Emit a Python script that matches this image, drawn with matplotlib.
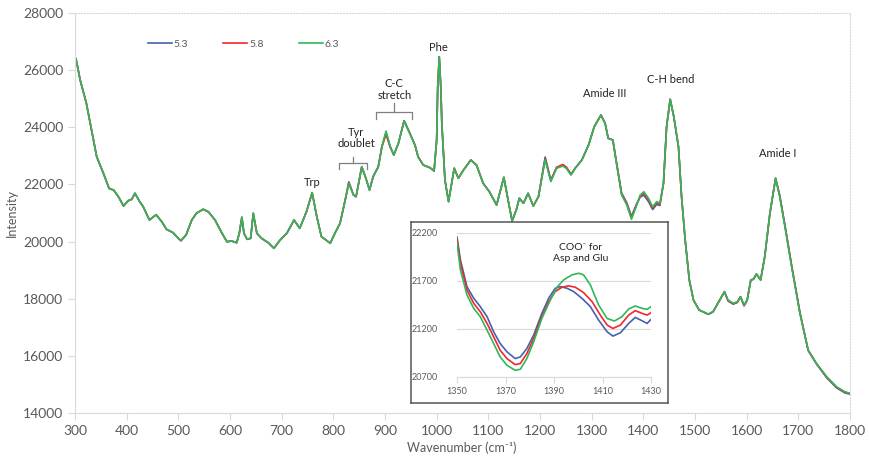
import matplotlib
matplotlib.use('Agg')
import matplotlib.pyplot as plt

plt.rcParams['font.family'] = ['Lato', 'DejaVu Sans']
plt.rcParams['lines.solid_joinstyle'] = 'round'

# Raman spectra at three pH values
wn = [300, 302, 310, 322, 332, 342, 355, 366, 375, 384,
      394, 403, 410, 416, 426, 432, 444, 457, 468, 477,
      490, 497, 505, 515, 526, 535, 548, 558, 571, 584,
      594, 603, 613, 618, 623, 627, 633, 640, 645, 652,
      661, 674, 685, 697, 710, 724, 735, 748, 759, 768,
      777, 784, 794, 803, 813, 823, 830, 839, 844, 855,
      863, 870, 877, 887, 894, 902, 910, 917, 926, 937,
      948, 958, 964, 974, 987, 995, 1000, 1002, 1005, 1008,
      1010, 1016, 1023, 1029, 1034, 1042, 1052, 1066, 1077, 1090,
      1102, 1116, 1130, 1137, 1146, 1154, 1160, 1168, 1177, 1187,
      1197, 1210, 1221, 1232, 1244, 1251, 1260, 1268, 1281, 1294,
      1305, 1318, 1326, 1332, 1341, 1348, 1358, 1368, 1377, 1386,
      1394, 1401, 1410, 1418, 1426, 1432, 1439, 1445, 1452, 1459,
      1468, 1474, 1481, 1489, 1497, 1508, 1526, 1535, 1548, 1557,
      1564, 1574, 1582, 1588, 1595, 1601, 1608, 1613, 1619, 1627,
      1635, 1645, 1656, 1664, 1674, 1687, 1703, 1719, 1735, 1755,
      1774, 1790, 1800]

ph63 = [26420, 26380, 25655, 24840, 23900, 22970, 22390, 21860, 21800, 21570,
        21245, 21430, 21480, 21690, 21375, 21220, 20755, 20940, 20695, 20430,
        20310, 20170, 20030, 20230, 20755, 20990, 21130, 21045, 20755, 20310,
        19995, 20020, 19960, 20290, 20850, 20290, 20080, 20115, 20990, 20290,
        20115, 19960, 19765, 20055, 20290, 20755, 20465, 21045, 21710, 20870,
        20170, 20080, 19940, 20290, 20640, 21455, 22040, 21630, 21570, 22620,
        22215, 21805, 22270, 22620, 23320, 23870, 23320, 23030, 23440, 24230,
        23790, 23380, 22970, 22680, 22585, 22470, 23555, 25400, 26470, 25400,
        24140, 22155, 21400, 22040, 22565, 22215, 22505, 22855, 22680, 22040,
        21745, 21280, 22250, 21570, 20720, 21105, 21515, 21340, 21690, 21245,
        21570, 22855, 22100, 22565, 22645, 22565, 22330, 22565, 22855, 23380,
        24020, 24430, 24140, 23615, 23555, 22740, 21630, 21280, 20780, 21220,
        21630, 21745, 21515, 21220, 21400, 21340, 22040, 24020, 24980, 24370,
        23320, 21570, 20055, 18655, 17955, 17605, 17455, 17545, 17955, 18245,
        17955, 17840, 17895, 18070, 17780, 17955, 18655, 18680, 18865, 18655,
        19470, 20990, 22215, 21570, 20520, 19120, 17490, 16205, 15740, 15270,
        14920, 14745, 14690]

ph58 = [26420, 26380, 25655, 24840, 23900, 22970, 22390, 21860, 21800, 21570,
        21245, 21430, 21480, 21690, 21375, 21220, 20755, 20940, 20695, 20430,
        20310, 20170, 20030, 20230, 20755, 20990, 21130, 21045, 20755, 20310,
        19995, 20020, 19960, 20290, 20850, 20290, 20080, 20115, 20990, 20290,
        20115, 19960, 19765, 20055, 20290, 20755, 20465, 21045, 21710, 20870,
        20170, 20080, 19940, 20290, 20640, 21455, 22060, 21630, 21570, 22620,
        22215, 21805, 22270, 22620, 23320, 23750, 23300, 23030, 23440, 24230,
        23790, 23380, 22970, 22680, 22585, 22470, 23555, 25400, 26470, 25400,
        24140, 22155, 21400, 22040, 22565, 22215, 22505, 22855, 22680, 22040,
        21745, 21280, 22250, 21570, 20720, 21105, 21515, 21340, 21690, 21245,
        21570, 22900, 22130, 22600, 22700, 22610, 22360, 22565, 22855, 23380,
        24020, 24430, 24140, 23615, 23555, 22760, 21660, 21320, 20830, 21250,
        21590, 21690, 21460, 21170, 21350, 21300, 22040, 24020, 24980, 24370,
        23320, 21570, 20055, 18655, 17955, 17605, 17455, 17545, 17955, 18245,
        17930, 17820, 17880, 18070, 17760, 17955, 18655, 18680, 18865, 18655,
        19470, 20990, 22215, 21600, 20560, 19150, 17510, 16200, 15730, 15250,
        14900, 14725, 14680]

ph53 = [26460, 26400, 25655, 24840, 23900, 22970, 22390, 21860, 21800, 21570,
        21245, 21430, 21480, 21690, 21375, 21220, 20755, 20940, 20695, 20430,
        20310, 20170, 20030, 20230, 20755, 20990, 21130, 21045, 20755, 20310,
        19995, 20020, 19960, 20290, 20850, 20290, 20080, 20115, 20990, 20290,
        20115, 19960, 19765, 20055, 20290, 20755, 20465, 21045, 21710, 20870,
        20170, 20080, 19940, 20290, 20640, 21455, 22090, 21630, 21570, 22620,
        22215, 21805, 22270, 22620, 23320, 23820, 23340, 23030, 23440, 24230,
        23790, 23380, 22970, 22680, 22585, 22470, 23555, 25400, 26470, 25400,
        24140, 22155, 21400, 22040, 22565, 22215, 22505, 22855, 22680, 22040,
        21745, 21280, 22250, 21570, 20720, 21105, 21515, 21340, 21690, 21245,
        21570, 22960, 22150, 22580, 22660, 22580, 22340, 22565, 22855, 23380,
        24020, 24430, 24140, 23615, 23555, 22780, 21700, 21360, 20880, 21280,
        21560, 21620, 21400, 21120, 21300, 21260, 22040, 24020, 24980, 24370,
        23320, 21570, 20055, 18655, 17955, 17605, 17455, 17545, 17955, 18245,
        17920, 17810, 17870, 18070, 17750, 17955, 18655, 18680, 18865, 18655,
        19470, 20990, 22215, 21620, 20580, 19170, 17530, 16190, 15720, 15230,
        14880, 14705, 14660]

# inset: COO- region
in_wn53 = [1350.0, 1351.4, 1354.1, 1356.9, 1359.6, 1362.4, 1365.1, 1367.8, 1370.6, 1374.0,
           1376.1, 1378.8, 1381.6, 1385.0, 1387.8, 1390.5, 1392.6, 1395.4, 1398.1, 1401.5,
           1405.0, 1408.4, 1411.9, 1414.3, 1417.4, 1420.8, 1423.5, 1426.3, 1428.4, 1430.0]
in53 = [22158, 21921, 21642, 21520, 21433, 21328, 21171, 21049, 20962, 20892,
        20909, 20997, 21136, 21363, 21520, 21624, 21642, 21624, 21590, 21520,
        21433, 21293, 21171, 21126, 21161, 21258, 21321, 21286, 21258, 21300]

in_wn58 = [1350.0, 1351.4, 1354.1, 1356.9, 1359.6, 1362.4, 1365.1, 1367.8, 1370.6, 1374.0,
           1376.1, 1378.8, 1381.6, 1385.0, 1387.8, 1390.5, 1393.3, 1396.0, 1398.8, 1402.2,
           1405.7, 1409.1, 1411.9, 1414.3, 1417.4, 1420.8, 1423.5, 1426.3, 1428.4, 1430.0]
in58 = [22130, 21886, 21607, 21467, 21380, 21258, 21119, 20979, 20892, 20829,
        20840, 20944, 21101, 21328, 21485, 21590, 21635, 21649, 21635, 21579,
        21485, 21345, 21241, 21206, 21241, 21345, 21391, 21363, 21345, 21370]

in_wn63 = [1350.0, 1351.4, 1354.1, 1356.9, 1359.6, 1362.4, 1365.1, 1367.8, 1370.6, 1374.0,
           1376.1, 1378.8, 1381.6, 1385.0, 1388.5, 1391.2, 1394.0, 1397.4, 1400.2, 1402.2,
           1405.0, 1408.4, 1411.9, 1414.9, 1418.0, 1420.8, 1423.5, 1426.3, 1428.4, 1430.0]
in63 = [22095, 21816, 21555, 21415, 21328, 21188, 21049, 20909, 20822, 20770,
        20780, 20892, 21066, 21310, 21502, 21635, 21712, 21764, 21781, 21764,
        21659, 21450, 21310, 21283, 21328, 21408, 21440, 21415, 21405, 21433]

labels = ['5.3', '5.8', '6.3']
colors = ['#4462ad', '#f0282a', '#2fb85a']
axis_grey = '#d9d9d9'
text_grey = '#595959'

fig = plt.figure(figsize=(8.69, 4.66), dpi=100)
ax = fig.add_axes([75/869, 1-413/466, 775/869, 400/466])

for vals, c, lab in zip([ph53, ph58, ph63], colors, labels):
    ax.plot(wn, vals, color=c, lw=1.2, label=lab)

ax.set_xlim(300, 1800)
ax.set_ylim(14000, 28000)
ax.set_xticks(range(300, 1801, 100))
ax.set_yticks(range(14000, 28001, 2000))
for s in ['left', 'bottom']:
    ax.spines[s].set_color(axis_grey)
for s in ['top', 'right']:
    ax.spines[s].set_color(axis_grey)
    ax.spines[s].set_linestyle(':')
ax.tick_params(colors=axis_grey, labelcolor=text_grey, labelsize=10, length=5)

fig.text(462/869, 1-448/466, 'Wavenumber (cm⁻¹)', ha='center', va='center',
         fontsize=9, color=text_grey)
fig.text(12/869, 1-213/466, 'Intensity', ha='center', va='center',
         rotation=90, fontsize=9, color=text_grey)

ax.legend(loc='center left', bbox_to_anchor=(148/869, 1-44/466),
          bbox_transform=fig.transFigure, ncol=3, frameon=False,
          fontsize=7.5, handlelength=2.3, handletextpad=0.15,
          columnspacing=3.4, borderpad=0, borderaxespad=0,
          labelcolor=text_grey)

# band labels
ann_kw = dict(ha='center', va='center', fontsize=8, color='#222222')
ax.text(759, 22050, 'Trp', **ann_kw)
ax.text(844, 23625, 'Tyr\ndoublet', linespacing=1.1, **ann_kw)
ax.text(918, 25320, 'C-C\nstretch', linespacing=1.1, **ann_kw)
ax.text(1004, 26800, 'Phe', **ann_kw)
ax.text(1326, 25190, 'Amide III', **ann_kw)
ax.text(1452, 25655, 'C-H bend', **ann_kw)
ax.text(1660, 23065, 'Amide I', **ann_kw)

# brackets
br_kw = dict(color='#7f7f7f', lw=0.9)
for x0, x1, yb, ye, yt in [(811, 865, 22760, 22530, 22970),
                           (882, 953, 24525, 24290, 24840)]:
    xm = (x0 + x1) / 2
    ax.plot([x0, x0, x1, x1], [ye, yb, yb, ye], **br_kw)
    ax.plot([xm, xm], [yb, yt], **br_kw)

# inset frame
frame = fig.add_axes([411/869, 1-403/466, 257/869, 181/466], zorder=3)
frame.set_xticks([])
frame.set_yticks([])
for s in frame.spines.values():
    s.set_color('#555555')
    s.set_linewidth(1.1)

ins = fig.add_axes([457/869, 1-377/466, 194/869, 144/466], zorder=4)
ins.set_facecolor('none')
ins.plot(in_wn53, in53, color=colors[0], lw=1.2)
ins.plot(in_wn58, in58, color=colors[1], lw=1.2)
ins.plot(in_wn63, in63, color=colors[2], lw=1.2)
ins.set_xlim(1350, 1430)
ins.set_ylim(20700, 22200)
ins.set_xticks(range(1350, 1431, 20))
ins.set_yticks([20700, 21200, 21700, 22200])
ins.grid(axis='y', color=axis_grey, lw=0.8)
ins.set_axisbelow(True)
for s in ['left', 'right', 'top']:
    ins.spines[s].set_visible(False)
ins.spines['bottom'].set_color(axis_grey)
ins.tick_params(axis='y', length=0, pad=14, labelsize=6.5, labelcolor=text_grey)
ins.tick_params(axis='x', length=4, color=axis_grey, labelsize=6.5, labelcolor=text_grey)
ins.text(1401, 21990, 'COO⁻ for\nAsp and Glu', ha='center', va='center',
         fontsize=7.5, color='#222222', linespacing=1.2)

fig.savefig('out.png', dpi=100)
